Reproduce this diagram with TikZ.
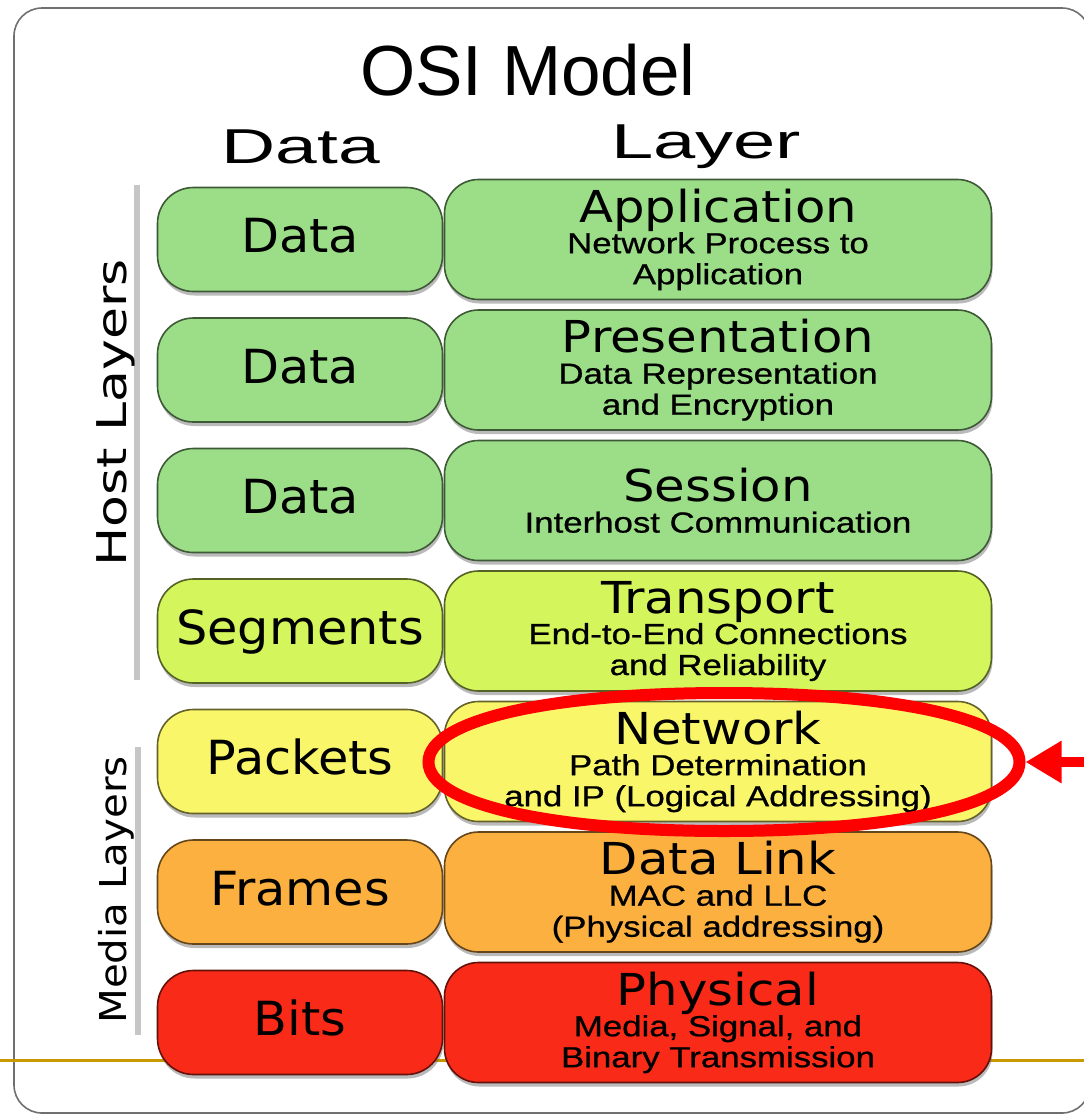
\documentclass[tikz,border=0pt]{standalone}
\usepackage{fontspec}
\usepackage{graphicx}
\usepackage{xcolor}
\usepackage{tikz}
\usetikzlibrary{arrows.meta,positioning,shapes.geometric,shadows}
\newfontfamily\vsans{DejaVu Sans}
\newfontfamily\asans{Liberation Sans}
\newfontfamily\dsans{Liberation Sans}[RawFeature={embolden=0.7}]
\definecolor{OsiGreen}{HTML}{9CDE88}
\definecolor{OsiLime}{HTML}{D4F55C}
\definecolor{OsiYellow}{HTML}{FAF66A}
\definecolor{OsiOrange}{HTML}{FBB040}
\definecolor{OsiRed}{HTML}{FA2A18}
\definecolor{OsiGold}{HTML}{C99A00}
\definecolor{OsiBar}{HTML}{C6C6C6}
\definecolor{OsiFrame}{HTML}{707070}
\definecolor{OsiMark}{HTML}{FF0000}
\newcommand\layname[1]{\scalebox{1.13}[1]{\vsans\fontsize{44}{46}\selectfont #1}}
\newcommand\laydesc[1]{\scalebox{1.2}[1]{#1}}
\newcommand\wideword[2]{\scalebox{#1}[1]{#2}}

\begin{document}
\begin{tikzpicture}[
  x=1pt,y=-1pt,
  node distance=24.9pt and 0.4pt,
  boxshadow/.style={drop shadow={shadow xshift=1pt,shadow yshift=-4pt,opacity=0.45,fill=black!60}},
  datbox/.style={rectangle,rounded corners=36pt,minimum width=285pt,minimum height=104pt,inner sep=0pt,text height=35pt,text depth=9pt,fill=#1,draw=#1!40!black,line width=1.6pt,font=\vsans\fontsize{47}{50}\selectfont,boxshadow},
  laybox/.style={rectangle,rounded corners=34pt,minimum width=547pt,minimum height=120pt,inner sep=0pt,align=center,fill=#1,draw=#1!40!black,line width=1.6pt,font=\dsans\fontsize{29}{31}\selectfont,boxshadow},
  headline/.style={anchor=base,font=\asans\fontsize{71}{75}\selectfont},
  colhead/.style={anchor=base,font=\asans\fontsize{49}{52}\selectfont},
  sidelabel/.style={rotate=90,font=\vsans\fontsize{41}{44}\selectfont},
  sidebar/.style={draw=OsiBar,line width=6pt},
  outerframe/.style={draw=OsiFrame,line width=1.6pt,rounded corners=28pt},
  goldrule/.style={draw=OsiGold,line width=3pt},
  ringspot/.style={ellipse,minimum width=603pt,minimum height=150pt,inner sep=0pt,outer sep=0pt},
  ringline/.style={draw=OsiMark,line width=12pt},
  pointer/.style={-{Triangle[length=36pt,width=40pt]},draw=OsiMark,fill=OsiMark,line width=10pt}
]
  \useasboundingbox (0,0) rectangle (1084,1117);
  \clip (0,0) rectangle (1084,1117);
  \draw[outerframe] (14,8) rectangle (1090,1113);
  \draw[goldrule] (0,1060) -- (1084,1060);

  % headings
  \node[headline] (osititle) at (528,95) {OSI Model};
  \node[colhead] (datahead) at (301,163) {\wideword{1.53}{Data}};
  \node[colhead] (layerhead) at (706,158) {\wideword{1.55}{Layer}};

  % data units
  \node[datbox=OsiGreen] (d1) at (300,239.5) {\wideword{1.05}{Data}};
  \node[datbox=OsiGreen,below=of d1] (d2) {\wideword{1.05}{Data}};
  \node[datbox=OsiGreen,below=of d2] (d3) {\wideword{1.05}{Data}};
  \node[datbox=OsiLime,below=of d3] (d4) {\wideword{1.05}{Segments}};
  \node[datbox=OsiYellow,below=of d4] (d5) {\wideword{1.05}{Packets}};
  \node[datbox=OsiOrange,below=of d5] (d6) {\wideword{1.05}{Frames}};
  \node[datbox=OsiRed,below=of d6] (d7) {\wideword{1.05}{Bits}};

  % layers
  \node[laybox=OsiGreen,right=of d1] (l1) {\layname{Application}\\\laydesc{Network Process to}\\\laydesc{Application}};
  \node[laybox=OsiGreen,right=of d2] (l2) {\layname{Presentation}\\\laydesc{Data Representation}\\\laydesc{and Encryption}};
  \node[laybox=OsiGreen,right=of d3] (l3) {\layname{Session}\\\laydesc{Interhost Communication}};
  \node[laybox=OsiLime,right=of d4] (l4) {\layname{Transport}\\\laydesc{End-to-End Connections}\\\laydesc{and Reliability}};
  \node[laybox=OsiYellow,right=of d5] (l5) {\layname{Network}\\\laydesc{Path Determination}\\\laydesc{and IP (Logical Addressing)}};
  \node[laybox=OsiOrange,right=of d6] (l6) {\layname{Data Link}\\\laydesc{MAC and LLC}\\\laydesc{(Physical addressing)}};
  \node[laybox=OsiRed,right=of d7] (l7) {\layname{Physical}\\\laydesc{Media, Signal, and}\\\laydesc{Binary Transmission}};

  % side groups
  \draw[sidebar] (137,185) -- (137,680);
  \draw[sidebar] (138,747) -- (138,1035);
  \node[sidelabel] (hostlbl) at (116,413) {\wideword{1.27}{Host Layers}};
  \node[sidelabel,font=\vsans\fontsize{37}{40}\selectfont] (medialbl) at (116,890) {\wideword{1.09}{Media Layers}};

  % highlight ring round the network layer
  \node[ringspot] (netring) at (724,762) {};
  \begin{scope}[shift={(netring.center)}]
    \draw[ringline] (295.5,0) .. controls (295.5,41.4) and (177.3,69) .. (0,69)
      .. controls (-177.3,69) and (-295.5,41.4) .. (-295.5,0)
      .. controls (-295.5,-41.4) and (-177.3,-69) .. (0,-69)
      .. controls (177.3,-69) and (295.5,-41.4) .. (295.5,0) -- cycle;
  \end{scope}
  \coordinate (arrowtail) at (1090,762);
  \draw[pointer] (arrowtail) -- (netring.east);
\end{tikzpicture}
\end{document}
